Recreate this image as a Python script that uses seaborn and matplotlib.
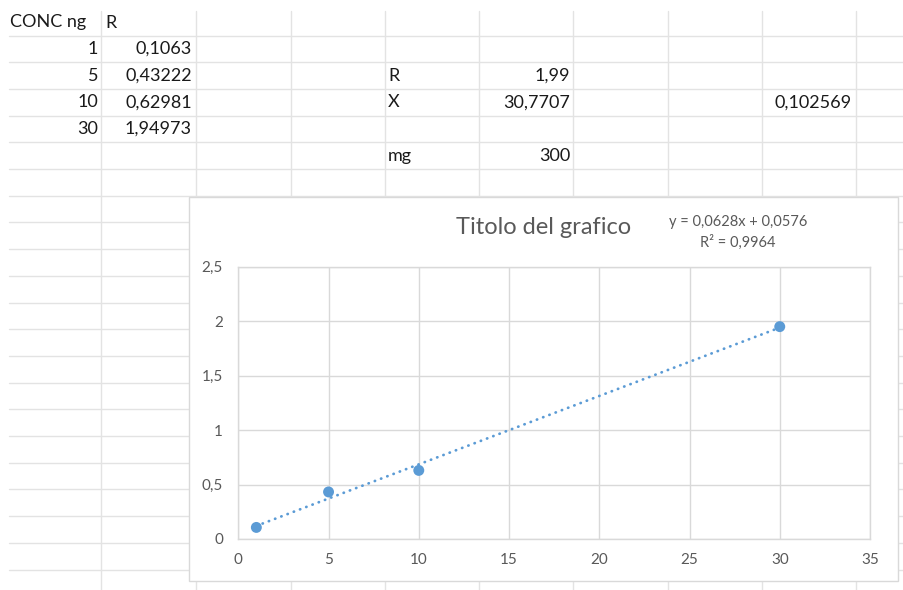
import numpy as np
import pandas as pd
import matplotlib
matplotlib.use("Agg")
import matplotlib.pyplot as plt
from matplotlib.patches import Rectangle
import seaborn as sns

# ---------------- data ----------------
header = ["CONC ng", "R"]
conc = [1, 5, 10, 30]
resp = [0.1063, 0.43222, 0.62981, 1.94973]
side_labels = ["R", "X", "mg"]
side_values = ["1,99", "30,7707", "300"]
extra_value = "0,102569"
chart_title = "Titolo del grafico"
eq_text = "y = 0,0628x + 0,0576"
r2_text = "R² = 0,9964"
x_ticks = [0, 5, 10, 15, 20, 25, 30, 35]
y_ticks = [0, 0.5, 1, 1.5, 2, 2.5]

sns.set_theme(style="white")
plt.rcParams['font.family'] = ['Lato', 'DejaVu Sans']

W, H = 904, 590
fig = plt.figure(figsize=(W / 100, H / 100), dpi=100)
fig.patch.set_facecolor("white")

bg = fig.add_axes([0, 0, 1, 1])
bg.set_xlim(0, W)
bg.set_ylim(H, 0)
bg.axis("off")

grid_c = "#E3E3E3"
col_lines = [101, 196, 291, 385, 479, 573, 668, 762, 856]
row_top = 35.5
row_h = 26.7
for xv in col_lines:
    bg.plot([xv, xv], [11, H], color=grid_c, lw=1.0, zorder=1)
for k in range(21):
    yv = row_top + k * row_h
    bg.plot([9, W], [yv, yv], color=grid_c, lw=1.0, zorder=1)

txt_c = "#1A1A1A"
fs_cell = 13

def row_center(i):
    if i == 0:
        return 22.5
    return row_top + (i - 1) * row_h + row_h / 2

# header row
bg.text(10, row_center(0), header[0], ha="left", va="center", fontsize=fs_cell, color=txt_c, zorder=3)
bg.text(105, row_center(0), header[1], ha="left", va="center", fontsize=fs_cell, color=txt_c, zorder=3)
for i, (c, r) in enumerate(zip(conc, resp)):
    yc = row_center(i + 1)
    bg.text(98, yc, str(c), ha="right", va="center", fontsize=fs_cell, color=txt_c, zorder=3)
    bg.text(192, yc, str(r).replace(".", ","), ha="right", va="center", fontsize=fs_cell, color=txt_c, zorder=3)

side_rows = [2, 3, 5]
for lab, val, ri in zip(side_labels, side_values, side_rows):
    yc = row_center(ri)
    bg.text(388, yc, lab, ha="left", va="center", fontsize=fs_cell, color=txt_c, zorder=3)
    bg.text(570, yc, val, ha="right", va="center", fontsize=fs_cell, color=txt_c, zorder=3)
bg.text(852, row_center(3), extra_value, ha="right", va="center", fontsize=fs_cell, color=txt_c, zorder=3)

# chart frame
bg.add_patch(Rectangle((189, 197), 898 - 189, 581 - 197, facecolor="white",
                       edgecolor="#D9D9D9", lw=1.0, zorder=2))

chart_txt = "#595959"
bg.text(544, 228, chart_title, ha="center", va="center", fontsize=17, color=chart_txt, zorder=3)
bg.text(738, 222, eq_text, ha="center", va="center", fontsize=10.5, color=chart_txt, zorder=3)
bg.text(738, 242, r2_text, ha="center", va="center", fontsize=10.5, color=chart_txt, zorder=3)

# plot area
L, T, R, B = 238.3, 266.7, 870, 539
ax = fig.add_axes([L / W, (H - B) / H, (R - L) / W, (B - T) / H])
ax.set_facecolor("none")
df = pd.DataFrame({"conc": conc, "resp": resp})
blue = "#5B9BD5"
sns.regplot(data=df, x="conc", y="resp", ax=ax, ci=None, color=blue,
            scatter_kws=dict(s=62, edgecolor="none", alpha=1, zorder=4),
            line_kws=dict(ls=(0, (0.1, 2.3)), lw=2.0, dash_capstyle="round", zorder=3))
ax.set_xlim(0, 35)
ax.set_ylim(0, 2.5)
ax.set_xticks(x_ticks)
ax.set_yticks(y_ticks)
ax.set_xticklabels([str(t) for t in x_ticks])
ax.set_yticklabels([("%g" % t).replace(".", ",") for t in y_ticks])
ax.set_xlabel("")
ax.set_ylabel("")
ax.grid(True, color="#D9D9D9", lw=1.0)
ax.set_axisbelow(True)
for s in ax.spines.values():
    s.set_color("#D9D9D9")
    s.set_linewidth(1.0)
ax.tick_params(axis="both", length=0, labelsize=11, labelcolor=chart_txt)
ax.tick_params(axis="y", pad=11)
ax.tick_params(axis="x", pad=10)

fig.savefig("out.png", dpi=100, facecolor="white")
